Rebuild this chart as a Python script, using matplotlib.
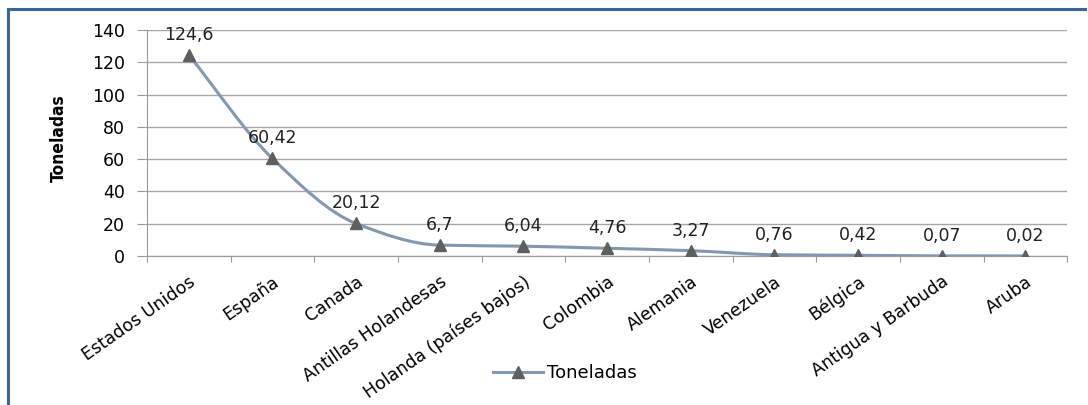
import numpy as np
import matplotlib.pyplot as plt
from matplotlib.path import Path
from matplotlib.patches import PathPatch
from matplotlib.lines import Line2D

# === DATA ===
paises = ['Estados Unidos', 'España', 'Canada', 'Antillas Holandesas',
          'Holanda (países bajos)', 'Colombia', 'Alemania', 'Venezuela',
          'Bélgica', 'Antigua y Barbuda', 'Aruba']
toneladas = [124.6, 60.42, 20.12, 6.7, 6.04, 4.76, 3.27, 0.76, 0.42, 0.07, 0.02]
etiquetas = ['124,6', '60,42', '20,12', '6,7', '6,04', '4,76', '3,27',
             '0,76', '0,42', '0,07', '0,02']

line_color = '#8497b0'
marker_color = '#5f5f5f'
plt.rcParams['font.family'] = ['DejaVu Sans']

fig = plt.figure(figsize=(10.88, 4.05), dpi=100)
ax = fig.add_axes([0.135, 0.368, 0.846, 0.558])

x = np.arange(len(paises))
y = np.array(toneladas)

# smoothed line through the points (monotone cubic tangents -> Bezier)
d = np.diff(y)
m = np.zeros_like(y)
m[0], m[-1] = d[0], d[-1]
for i in range(1, len(y) - 1):
    if d[i - 1] * d[i] > 0:
        m[i] = 2 / (1 / d[i - 1] + 1 / d[i])
verts = [(x[0], y[0])]
codes = [Path.MOVETO]
for i in range(len(x) - 1):
    verts += [(x[i] + 1 / 3, y[i] + m[i] / 3),
              (x[i + 1] - 1 / 3, y[i + 1] - m[i + 1] / 3),
              (x[i + 1], y[i + 1])]
    codes += [Path.CURVE4] * 3
ax.add_patch(PathPatch(Path(verts, codes), fill=False, edgecolor=line_color,
                       lw=2.2, zorder=3, capstyle='round'))
ax.plot(x, y, ls='none', marker='^', ms=9, color=marker_color, zorder=4)

for xi, yi, t in zip(x, y, etiquetas):
    ax.annotate(t, (xi, yi), xytext=(0, 8), textcoords='offset points',
                ha='center', va='bottom', fontsize=12.5, color='#222222')

ax.set_xlim(-0.5, len(paises) - 0.5)
ax.set_ylim(0, 140)
ax.set_yticks(range(0, 141, 20))
ax.set_xticks(np.arange(-0.5, len(paises), 1.0))
ax.set_xticklabels([])
ax.tick_params(axis='x', length=4, color='#9a9a9a', direction='out')
ax.set_xticks(x, minor=True)
ax.set_xticklabels(paises, minor=True, rotation=35, ha='right',
                   rotation_mode='anchor', fontsize=12.5)
ax.tick_params(axis='x', which='minor', length=0, pad=12)
ax.tick_params(axis='y', length=7, color='#9a9a9a', labelsize=12.5, pad=9)
ax.grid(axis='y', color='#a6a6a6', lw=1)
ax.set_axisbelow(True)
for s in ['top', 'right']:
    ax.spines[s].set_visible(False)
for s in ['left', 'bottom']:
    ax.spines[s].set_color('#9a9a9a')
ax.set_ylabel('Toneladas', fontsize=12.5, fontweight='bold',
              fontstretch='condensed', family=['DejaVu Sans'])
ax.yaxis.set_label_coords(-0.086, 0.52)

handle = Line2D([], [], color=line_color, lw=2.2, marker='^', ms=9,
                markerfacecolor=marker_color, markeredgecolor=marker_color)
fig.legend([handle], ['Toneladas'], loc='center', bbox_to_anchor=(0.519, 0.078),
           frameon=False, fontsize=13, handlelength=2.8, handletextpad=0.2)

# outer blue frame (top and left edges)
fig.add_artist(Line2D([0.007, 0.997], [0.978, 0.978], transform=fig.transFigure,
                      color='#3a64a0', lw=2.2))
fig.add_artist(Line2D([0.0075, 0.0075], [0.0, 0.978], transform=fig.transFigure,
                      color='#3a64a0', lw=2.2))

fig.savefig('out.png', dpi=100)
